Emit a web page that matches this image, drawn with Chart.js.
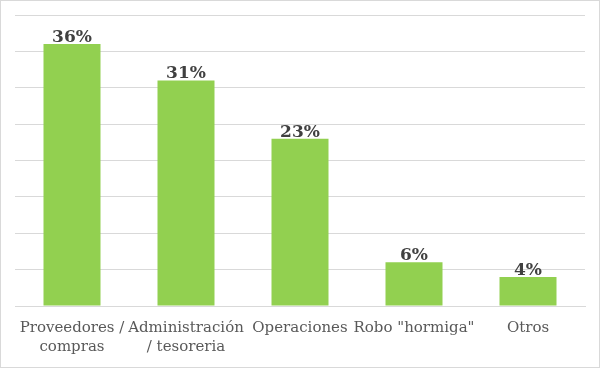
<!DOCTYPE html>
<html>
<head>
<meta charset="utf-8">
<script src="https://cdn.jsdelivr.net/npm/chart.js@4"></script>
<style>
  html, body { margin: 0; padding: 0; background: #fff; }
  #wrap { width: 600px; height: 368px; box-sizing: border-box; border: 1px solid #d9d9d9; }
</style>
</head>
<body>
<div id="wrap"><canvas id="chart" width="598" height="366"></canvas></div>
<script>
const categories = [["Proveedores /", "compras"], ["Administración", "/ tesoreria"], "Operaciones", "Robo \"hormiga\"", "Otros"];
const values = [36, 31, 23, 6, 4];
const yTicks = [0, 5, 10, 15, 20, 25, 30, 35, 40];

const serif = "'DejaVu Serif', serif";

// Draw the percentage above each bar
const valueLabels = {
  id: "valueLabels",
  afterDatasetsDraw(chart) {
    const ctx = chart.ctx;
    const meta = chart.getDatasetMeta(0);
    ctx.save();
    ctx.font = "bold 17px " + serif;
    ctx.fillStyle = "#404040";
    ctx.textAlign = "center";
    ctx.textBaseline = "bottom";
    meta.data.forEach((bar, i) => {
      ctx.fillText(values[i] + "%", bar.x, bar.y + 2);
    });
    ctx.restore();
  },
};

new Chart(document.getElementById("chart"), {
  type: "bar",
  data: {
    labels: categories,
    datasets: [{
      data: values,
      backgroundColor: "#92d050",
      borderWidth: 0,
      categoryPercentage: 1,
      barPercentage: 0.5,
    }],
  },
  options: {
    responsive: false,
    animation: false,
    layout: { padding: { left: 14, right: 14, top: 14, bottom: 0 } },
    plugins: { legend: { display: false }, tooltip: { enabled: false } },
    scales: {
      x: {
        grid: { display: false },
        border: { color: "#d9d9d9", width: 1 },
        ticks: {
          color: "#595959",
          font: { family: serif, size: 15, lineHeight: 1.25 },
          maxRotation: 0,
          autoSkip: false,
          padding: 5,
        },
        afterFit(scale) { scale.height = 61; },
      },
      y: {
        min: 0,
        max: 40,
        afterBuildTicks(scale) { scale.ticks = yTicks.map(v => ({ value: v })); },
        grid: { color: "#d9d9d9", drawTicks: false },
        border: { display: false },
        ticks: { display: false },
        afterFit(scale) { scale.width = 0; },
      },
    },
  },
  plugins: [valueLabels],
});
</script>
</body>
</html>
